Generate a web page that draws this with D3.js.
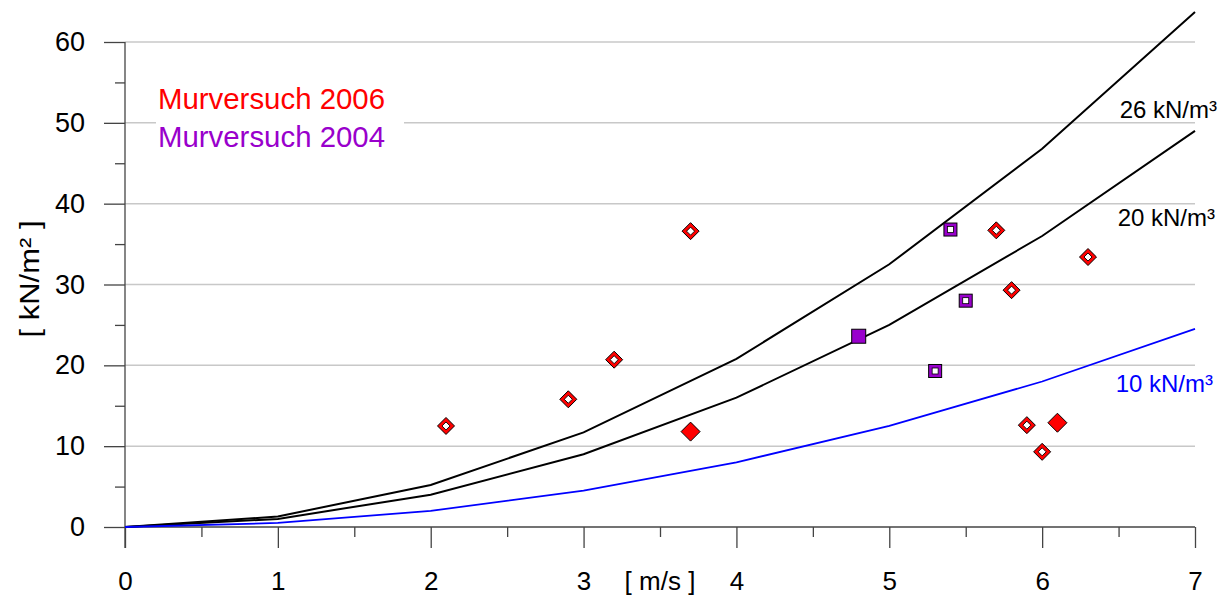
<!DOCTYPE html>
<html>
<head>
<meta charset="utf-8">
<script src="https://cdn.jsdelivr.net/npm/d3@7"></script>
<style>
  body { margin: 0; background: #fff; }
  svg { display: block; font-family: "Liberation Sans", Arial, sans-serif; }
</style>
</head>
<body>
<div id="chart"></div>
<script>
// speed [m/s] at which the reference curves are drawn
const speeds = [0, 1, 2, 3, 4, 5, 6, 7];
// impact pressure [kN/m²] for each unit weight
const curve26 = [0, 1.3, 5.2, 11.7, 20.8, 32.5, 46.8, 63.7];
const curve20 = [0, 1.0, 4.0, 9.0, 16.0, 25.0, 36.0, 49.0];
const curve10 = [0, 0.5, 2.0, 4.5, 8.0, 12.5, 18.0, 24.5];
const curveNames = ["26 kN/m³", "20 kN/m³", "10 kN/m³"];

// Murversuch 2006 (open diamonds)
const test2006 = [
  [2.1, 12.5], [2.9, 15.8], [3.2, 20.7], [3.7, 36.6],
  [5.7, 36.7], [5.8, 29.3], [6.3, 33.4], [5.9, 12.6], [6.0, 9.3]
];
// Murversuch 2006 (filled diamonds)
const test2006Filled = [[3.7, 11.8], [6.1, 12.9]];
// Murversuch 2004 (open squares)
const test2004 = [[5.4, 36.8], [5.5, 28.0], [5.3, 19.3]];
// Murversuch 2004 (filled squares)
const test2004Filled = [[4.8, 23.6]];

const xTicks = [0, 1, 2, 3, 4, 5, 6, 7];
const yTicks = [0, 10, 20, 30, 40, 50, 60];

const W = 1225, H = 597;
const red = "#ff0000", purple = "#9900cc", blue = "#0000ff";

const svg = d3.select("#chart").append("svg")
  .attr("width", W).attr("height", H);

const x = d3.scaleLinear().domain([0, 7]).range([125, 1195]);
const y = d3.scaleLinear().domain([0, 60]).range([527, 42]);

// grid
svg.append("g").selectAll("line").data(yTicks.slice(1)).join("line")
  .attr("x1", x(0)).attr("x2", x(7))
  .attr("y1", d => y(d)).attr("y2", d => y(d))
  .attr("stroke", "#c8c8c8").attr("stroke-width", 1.5);

// legend box covers the grid
svg.append("rect").attr("x", 156).attr("y", 78).attr("width", 248).attr("height", 78)
  .attr("fill", "#fff");

// axes
const axisColor = "#444";
const yMajor = svg.append("g").attr("transform", `translate(${x(0)},0)`)
  .call(d3.axisLeft(y).tickValues(yTicks).tickSize(21).tickPadding(19).tickFormat(d3.format("d")));
const yMinor = svg.append("g").attr("transform", `translate(${x(0)},0)`)
  .call(d3.axisLeft(y).tickValues(d3.range(5, 60, 10)).tickSize(10).tickFormat(""));
const xMajor = svg.append("g").attr("transform", `translate(0,${y(0)})`)
  .call(d3.axisBottom(x).tickValues(xTicks).tickSize(21).tickFormat(d3.format("d")));
const xMinor = svg.append("g").attr("transform", `translate(0,${y(0)})`)
  .call(d3.axisBottom(x).tickValues(d3.range(0.5, 7, 1)).tickSize(10).tickFormat(""));

[yMajor, yMinor, xMajor, xMinor].forEach(g => {
  g.select(".domain").remove();
  g.selectAll("line").attr("stroke", axisColor).attr("stroke-width", 1.3);
  g.selectAll("text").attr("fill", "#000").style("font-size", "27px");
});
// x tick labels sit near the bottom edge
xMajor.selectAll("text").attr("y", 63).attr("dy", null).style("font-size", "26px");

svg.append("line").attr("x1", x(0)).attr("x2", x(0)).attr("y1", y(60)).attr("y2", y(0) + 21)
  .attr("stroke", axisColor).attr("stroke-width", 1.3);
svg.append("line").attr("x1", x(0)).attr("x2", x(7)).attr("y1", y(0)).attr("y2", y(0))
  .attr("stroke", axisColor).attr("stroke-width", 1.3);

// axis titles
svg.append("text")
  .attr("transform", `translate(39,${279}) rotate(-90)`)
  .attr("text-anchor", "middle").style("font-size", "28px")
  .attr("textLength", 117).attr("lengthAdjust", "spacingAndGlyphs")
  .text("[ kN/m² ]");
svg.append("text").attr("x", 660).attr("y", 590)
  .attr("text-anchor", "middle").style("font-size", "26px")
  .text("[ m/s ]");

// curves
const line = d3.line().x(d => x(d[0])).y(d => y(d[1]));
const curves = [
  { vals: curve26, color: "#000", width: 2 },
  { vals: curve20, color: "#000", width: 2 },
  { vals: curve10, color: blue, width: 1.8 }
];
svg.append("g").selectAll("path").data(curves).join("path")
  .attr("d", c => line(speeds.map((s, i) => [s, c.vals[i]])))
  .attr("fill", "none")
  .attr("stroke", c => c.color)
  .attr("stroke-width", c => c.width);

// curve labels
const curveLabelPos = [[1217, 118], [1215, 226], [1213, 392]];
svg.append("g").selectAll("text").data(curveNames).join("text")
  .attr("x", (d, i) => curveLabelPos[i][0])
  .attr("y", (d, i) => curveLabelPos[i][1])
  .attr("text-anchor", "end")
  .attr("fill", (d, i) => i === 2 ? blue : "#000")
  .style("font-size", "24px")
  .text(d => d);

// markers
const diamond = r => `M0,${-r}L${r},0L0,${r}L${-r},0Z`;
const pts = svg.append("g");

pts.selectAll("g.d-open").data(test2006).join("g").attr("class", "d-open")
  .attr("transform", d => `translate(${x(d[0])},${y(d[1])})`)
  .each(function () {
    const g = d3.select(this);
    g.append("path").attr("d", diamond(8.5)).attr("fill", red).attr("stroke", "#000").attr("stroke-width", 1);
    g.append("path").attr("d", diamond(4)).attr("fill", "#fff").attr("stroke", "#000").attr("stroke-width", 0.9);
  });

pts.selectAll("path.d-fill").data(test2006Filled).join("path").attr("class", "d-fill")
  .attr("transform", d => `translate(${x(d[0])},${y(d[1])})`)
  .attr("d", diamond(9.5)).attr("fill", red).attr("stroke", "#000").attr("stroke-width", 1);

pts.selectAll("g.s-open").data(test2004).join("g").attr("class", "s-open")
  .attr("transform", d => `translate(${x(d[0])},${y(d[1])})`)
  .each(function () {
    const g = d3.select(this);
    g.append("rect").attr("x", -6.5).attr("y", -6.5).attr("width", 13).attr("height", 13)
      .attr("fill", purple).attr("stroke", "#000").attr("stroke-width", 1);
    g.append("rect").attr("x", -3).attr("y", -3).attr("width", 6).attr("height", 6)
      .attr("fill", "#fff").attr("stroke", "#000").attr("stroke-width", 0.8);
  });

pts.selectAll("rect.s-fill").data(test2004Filled).join("rect").attr("class", "s-fill")
  .attr("x", d => x(d[0]) - 7).attr("y", d => y(d[1]) - 7)
  .attr("width", 14).attr("height", 14)
  .attr("fill", purple).attr("stroke", "#000").attr("stroke-width", 1);

// legend
svg.append("text").attr("x", 158).attr("y", 109).attr("fill", red)
  .style("font-size", "30px").attr("textLength", 227).attr("lengthAdjust", "spacingAndGlyphs")
  .text("Murversuch 2006");
svg.append("text").attr("x", 158).attr("y", 147).attr("fill", purple)
  .style("font-size", "30px").attr("textLength", 227).attr("lengthAdjust", "spacingAndGlyphs")
  .text("Murversuch 2004");
</script>
</body>
</html>
